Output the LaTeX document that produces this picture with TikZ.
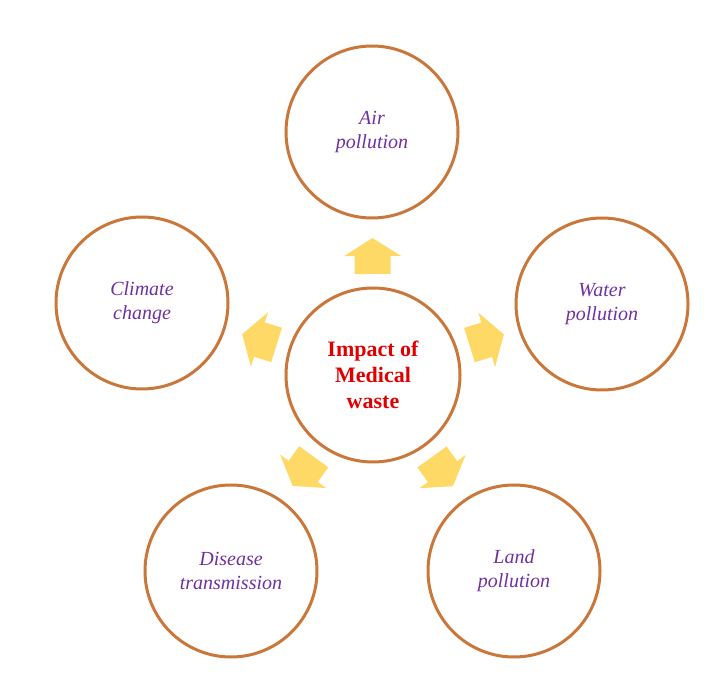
\documentclass[tikz,border=0pt]{standalone}
\usepackage{fontspec}
\setmainfont{Liberation Serif}
\usetikzlibrary{calc}
\definecolor{ring}{HTML}{C9773A}
\definecolor{txt}{HTML}{7030A0}
\definecolor{arr}{HTML}{FFD966}
\definecolor{ctr}{HTML}{E00000}
\tikzset{
  bubble/.style={circle,draw=ring,line width=3pt,minimum size=172pt,inner sep=0pt,align=center,
    font=\fontsize{20pt}{24pt}\selectfont\itshape,text=txt},
  hub/.style={bubble,minimum size=174pt,font=\fontsize{22pt}{26pt}\selectfont\bfseries,text=ctr}
}
\newcommand\blockarrow[2]{%
  \fill[arr,shift={#1},rotate=#2] (-18,-18)--(0,-18)--(0,-28.5)--(18,0)--(0,28.5)--(0,18)--(-18,18)--cycle;}
\begin{document}
\begin{tikzpicture}[x=1pt,y=1pt]
\useasboundingbox (0,0) rectangle (728,686);
\node[hub] (c) at (373,311) {Impact of\\Medical\\waste};
\node[bubble] (air) at (372,554) {Air\\pollution};
\node[bubble] (water) at (602,382) {Water\\pollution};
\node[bubble] (climate) at (142,383) {Climate\\change};
\node[bubble] (dis) at (231,115) {Disease\\transmission};
\node[bubble] (land) at (514,115) {Land\\pollution};
\foreach \t in {air,water,climate,dis,land}{
  \path let \p1=($(\t)-(c)$), \n1={atan2(\y1,\x1)} in
    coordinate (a-\t) at ($(c)+(\n1:119)$)
    \pgfextra{\xdef\ang{\n1}};
  \blockarrow{(a-\t)}{\ang}
}
\end{tikzpicture}
\end{document}
